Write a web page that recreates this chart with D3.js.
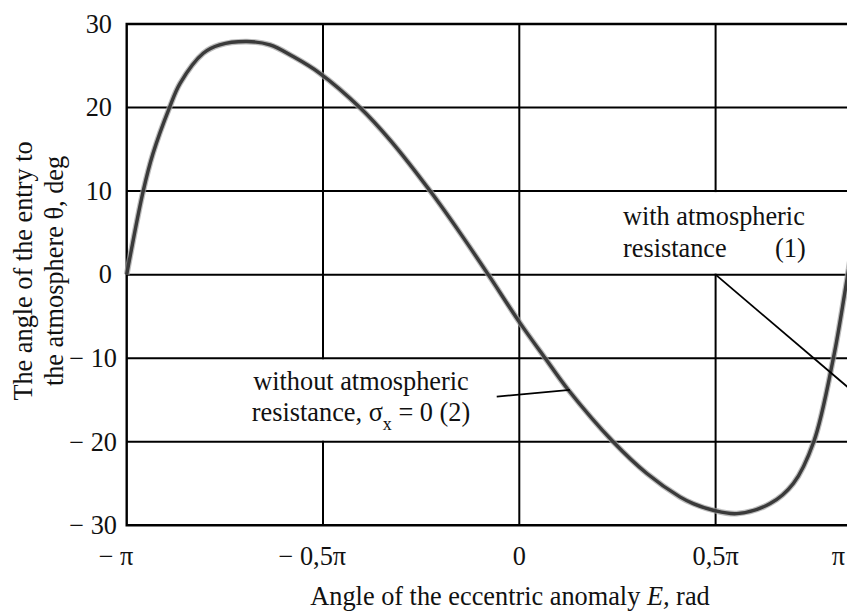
<!DOCTYPE html>
<html>
<head>
<meta charset="utf-8">
<script src="https://cdn.jsdelivr.net/npm/d3@7"></script>
<style>
  html, body { margin: 0; padding: 0; background: #fff; }
  svg { display: block; }
  text { font-family: "Liberation Serif", "Times New Roman", serif; fill: #111; }
</style>
</head>
<body>
<svg id="chart" width="847" height="612"></svg>
<script>
// Eccentric anomaly E (in multiples of π) and entry angle θ (deg)
const anomalyPi = [-1.0, -0.958, -0.933, -0.891, -0.864, -0.805, -0.763, -0.694, -0.635, -0.576,
                   -0.508, -0.406, -0.329, -0.227, -0.151, -0.079, 0.002, 0.066, 0.125, 0.239,
                   0.325, 0.409, 0.443, 0.494, 0.554, 0.639, 0.698, 0.750, 0.800, 0.829, 0.845];
const entryAngle = [0, 10, 14.5, 20, 22.9, 26.5, 27.5, 27.9, 27.5, 26.1,
                    24.1, 20, 16.1, 10, 5.0, 0, -5.8, -10, -13.8, -20,
                    -23.8, -26.6, -27.4, -28.2, -28.6, -27.4, -25.0, -20, -10, -2.2, 2.5];

// Axis ticks
const xTickValues = [-1, -0.5, 0, 0.5, 1];            // multiples of π
const xTickMagnitudes = ["π", "0,5π", "0", "0,5π", "π"];
const yTickValues = [-30, -20, -10, 0, 10, 20, 30];
const yGridValues = [-20, -10, 0, 10, 20];
const xGridValues = [-0.5, 0, 0.5];

// Annotation leaders (E in multiples of π, θ in deg)
const leader1 = [[0.5, 0], [0.9, -16.0]];
const leader2 = [[-0.0575, -14.6], [0.129, -13.8]];

const W = 847, H = 612;
const FS = 26.3;
const svg = d3.select("#chart");

const x = d3.scaleLinear().domain([-Math.PI, Math.PI]).range([126.7, 911.9]);
const y = d3.scaleLinear().domain([-30, 30]).range([525.3, 24]);
const X0 = x(-Math.PI), Y0 = y(30), Y1 = y(-30);

// vertical grid lines
svg.append("g").selectAll("line").data(xGridValues).join("line")
  .attr("x1", d => x(d * Math.PI)).attr("x2", d => x(d * Math.PI))
  .attr("y1", Y0).attr("y2", Y1)
  .attr("stroke", "#000").attr("stroke-width", 2);

// annotation backgrounds (blank out the vertical grid behind the labels)
const boxLayer = svg.append("g");

// horizontal grid lines
svg.append("g").selectAll("line").data(yGridValues).join("line")
  .attr("x1", X0).attr("x2", W)
  .attr("y1", d => y(d)).attr("y2", d => y(d))
  .attr("stroke", "#000").attr("stroke-width", 2);

// frame: left, top and bottom edges
svg.append("path")
  .attr("d", `M${W},${Y0}H${X0}V${Y1}H${W}`)
  .attr("fill", "none").attr("stroke", "#000").attr("stroke-width", 2.4);

// curve
const pts = anomalyPi.map((e, i) => [e * Math.PI, entryAngle[i]]);
const line = d3.line().x(d => x(d[0])).y(d => y(d[1])).curve(d3.curveCatmullRom.alpha(0.5));
svg.append("path").datum(pts).attr("d", line)
  .attr("fill", "none").attr("stroke", "#a0a0a0").attr("stroke-width", 5.8)
  .attr("stroke-opacity", 0.7).attr("stroke-linejoin", "round");
svg.append("path").datum(pts).attr("d", line)
  .attr("fill", "none").attr("stroke", "#3a3a3a").attr("stroke-width", 3.4)
  .attr("stroke-linejoin", "round");

// leader lines
[leader1, leader2].forEach(seg => {
  svg.append("line")
    .attr("x1", x(seg[0][0] * Math.PI)).attr("y1", y(seg[0][1]))
    .attr("x2", x(seg[1][0] * Math.PI)).attr("y2", y(seg[1][1]))
    .attr("stroke", "#000").attr("stroke-width", 1.8);
});

// y tick labels
svg.append("g").selectAll("text").data(yTickValues).join("text")
  .attr("x", d => d < 0 ? 117 : 112)
  .attr("y", d => y(d) + 8.8)
  .attr("text-anchor", "end")
  .attr("font-size", FS)
  .text(d => d < 0 ? "− " + Math.abs(d) : String(d));

// x tick labels: the magnitude is centred on the tick, a minus sign hangs to its left
function textWidth(str) {
  const t = svg.append("text").attr("font-size", FS).text(str);
  const w = t.node().getComputedTextLength();
  t.remove();
  return w;
}
xTickValues.forEach((v, i) => {
  const mag = xTickMagnitudes[i];
  const mw = textWidth(mag);
  let cx = Math.min(x(v * Math.PI), W - 2 - mw / 2);
  svg.append("text")
    .attr("x", cx + mw / 2).attr("y", Y1 + 40)
    .attr("text-anchor", "end").attr("font-size", FS)
    .text(v < 0 ? "− " + mag : mag);
});

// x axis title
const xt = svg.append("text").attr("x", 510).attr("y", 605)
  .attr("text-anchor", "middle").attr("font-size", FS);
xt.append("tspan").text("Angle of the eccentric anomaly ");
xt.append("tspan").attr("font-style", "italic").text("E,");
xt.append("tspan").text(" rad");

// y axis title
const yt = svg.append("g").attr("transform", "translate(0,271)");
yt.append("text").attr("transform", "translate(31.5,0) rotate(-90)")
  .attr("text-anchor", "middle").attr("font-size", FS)
  .text("The angle of the entry to");
yt.append("text").attr("transform", "translate(63,0) rotate(-90)")
  .attr("text-anchor", "middle").attr("font-size", FS)
  .text("the atmosphere θ, deg");

// annotation (2)
const a2 = svg.append("g");
a2.append("text").attr("x", 361).attr("y", 390).attr("text-anchor", "middle")
  .attr("font-size", FS).text("without atmospheric");
const a2b = a2.append("text").attr("x", 361).attr("y", 421).attr("text-anchor", "middle")
  .attr("font-size", FS);
a2b.append("tspan").text("resistance, σ");
a2b.append("tspan").attr("font-size", 18).attr("dy", 9).text("x");
a2b.append("tspan").attr("dy", -9).text(" = 0 (2)");

// annotation (1)
const a1 = svg.append("g");
a1.append("text").attr("x", 623).attr("y", 225).attr("font-size", FS).text("with atmospheric");
a1.append("text").attr("x", 623).attr("y", 257).attr("font-size", FS).text("resistance");
a1.append("text").attr("x", 775).attr("y", 257).attr("font-size", FS).text("(1)");

// white boxes behind annotations, spanning the grid cell they sit in
function blank(g, yTop, yBot) {
  const b = g.node().getBBox();
  boxLayer.append("rect")
    .attr("x", b.x - 4).attr("width", b.width + 8)
    .attr("y", y(yTop) + 1).attr("height", y(yBot) - y(yTop) - 2)
    .attr("fill", "#fff");
}
blank(a2, -10, -20);
blank(a1, 10, 0);
</script>
</body>
</html>
